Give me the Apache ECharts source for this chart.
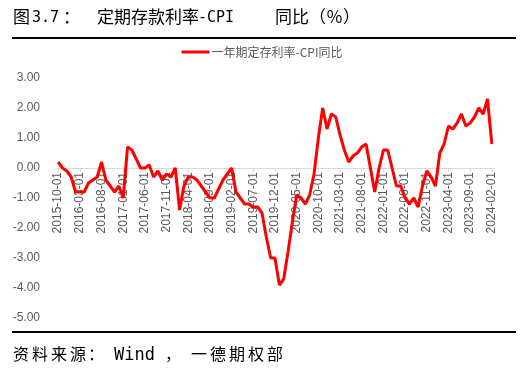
<!DOCTYPE html>
<html>
<head>
<meta charset="utf-8">
<script src="https://cdn.jsdelivr.net/npm/echarts@6/dist/echarts.min.js"></script>
<style>
html,body{margin:0;padding:0;background:#fff;}
#c{width:524px;height:372px;}
</style>
</head>
<body>
<div id="c"></div>
<script>
var seriesName = '一年期定存利率-CPI同比';
var startYear = 2015, startMonth = 10, monthCount = 101;
var values = [
  0.2, 0.0, -0.1, -0.3, -0.8, -0.8, -0.8, -0.5, -0.4, -0.3, 0.2, -0.4,
  -0.6, -0.8, -0.6, -1.0, 0.7, 0.6, 0.3, 0.0, 0.0, 0.1, -0.3, -0.1,
  -0.4, -0.2, -0.3, 0.0, -1.4, -0.6, -0.3, -0.3, -0.4, -0.6, -0.8, -1.0,
  -1.0, -0.7, -0.4, -0.2, 0.0, -0.8, -1.0, -1.2, -1.2, -1.3, -1.3, -1.5,
  -2.3, -3.0, -3.0, -3.9, -3.7, -2.8, -1.8, -0.9, -1.0, -1.2, -0.9, -0.2,
  1.0, 2.0, 1.3, 1.8, 1.7, 1.1, 0.6, 0.2, 0.4, 0.5, 0.7, 0.8,
  0.0, -0.8, 0.0, 0.6, 0.6, 0.0, -0.6, -0.6, -1.0, -1.2, -1.0, -1.3,
  -0.6, -0.1, -0.3, -0.6, 0.5, 0.8, 1.4, 1.3, 1.5, 1.8, 1.4, 1.5,
  1.7, 2.0, 1.8, 2.3, 0.8
];
var categories = [];
for (var i = 0; i < monthCount; i++) {
  var m = startMonth - 1 + i;
  var y = startYear + Math.floor(m / 12);
  var mm = (m % 12) + 1;
  categories.push(y + '-' + (mm < 10 ? '0' + mm : mm) + '-01');
}
var yMin = -5, yMax = 3;

var CJK = '17px "Noto Sans CJK SC"';
var MONO = '15px "DejaVu Sans Mono"';
var CJK2 = '16px "Noto Sans CJK SC"';
var MONO2 = '17px "DejaVu Sans Mono"';
function t(x, y, text, font) {
  return {type: 'text', x: x, y: y, style: {text: text, font: font, fill: '#000', textVerticalAlign: 'middle'}};
}

var gridTop = 78, gridBottom = 54, chartH = 372;
var plotH = chartH - gridTop - gridBottom;
var zeroOffset = -plotH * (0 - yMin) / (yMax - yMin);

var chart = echarts.init(document.getElementById('c'), null, {renderer: 'canvas'});
chart.setOption({
  animation: false,
  backgroundColor: '#fff',
  graphic: [
    t(13, 17, '图', CJK),
    t(32, 18, '3.7', MONO),
    t(63, 17, '：', CJK),
    t(97, 17, '定期存款利率', CJK),
    t(198, 18, '-CPI', MONO),
    t(275, 17, '同比', CJK),
    t(309, 17, '（％）', CJK),
    {type: 'rect', shape: {x: 12, y: 37, width: 504, height: 2}, style: {fill: '#000'}},
    {type: 'rect', shape: {x: 12, y: 331, width: 504, height: 2}, style: {fill: '#000'}},
    t(13, 354, '资', CJK2), t(32, 354, '料', CJK2), t(51, 354, '来', CJK2), t(70, 354, '源', CJK2),
    t(88, 354, '：', CJK2),
    t(114, 356, 'Wind', MONO2),
    t(165, 354, '，', CJK2),
    t(191, 354, '一', CJK2), t(210, 354, '德', CJK2), t(229, 354, '期', CJK2), t(248, 354, '权', CJK2), t(267, 354, '部', CJK2)
  ],
  legend: {
    top: 41, left: 'center',
    itemWidth: 28, itemHeight: 10,
    textStyle: {color: '#595959', fontSize: 12, fontFamily: '"Noto Sans CJK SC"', padding: [0, 0, 0, -3]},
    data: [{name: seriesName, icon: 'path://M0,4 L28,4 L28,7 L0,7 Z'}]
  },
  grid: {left: 56, right: 30, top: gridTop, bottom: gridBottom, outerBoundsMode: 'none', containLabel: false},
  xAxis: {
    type: 'category', data: categories, boundaryGap: true,
    offset: zeroOffset,
    axisLine: {onZero: false, lineStyle: {color: '#d9d9d9', width: 1}},
    axisTick: {show: true, interval: 4, alignWithLabel: true, length: 4, lineStyle: {color: '#d9d9d9'}},
    axisLabel: {interval: 4, rotate: 90, color: '#595959', fontSize: 12, fontFamily: 'Liberation Sans', margin: 4}
  },
  yAxis: {
    type: 'value', min: yMin, max: yMax, interval: 1,
    axisLine: {show: false}, axisTick: {show: false}, splitLine: {show: false},
    axisLabel: {color: '#595959', fontSize: 12, fontFamily: 'Liberation Sans', margin: 16,
      formatter: function (v) { return v.toFixed(2); }}
  },
  series: [{
    name: seriesName, type: 'line', data: values,
    showSymbol: false, symbol: 'none',
    lineStyle: {color: '#ff0000', width: 3},
    itemStyle: {color: '#ff0000'}
  }]
});
</script>
</body>
</html>
